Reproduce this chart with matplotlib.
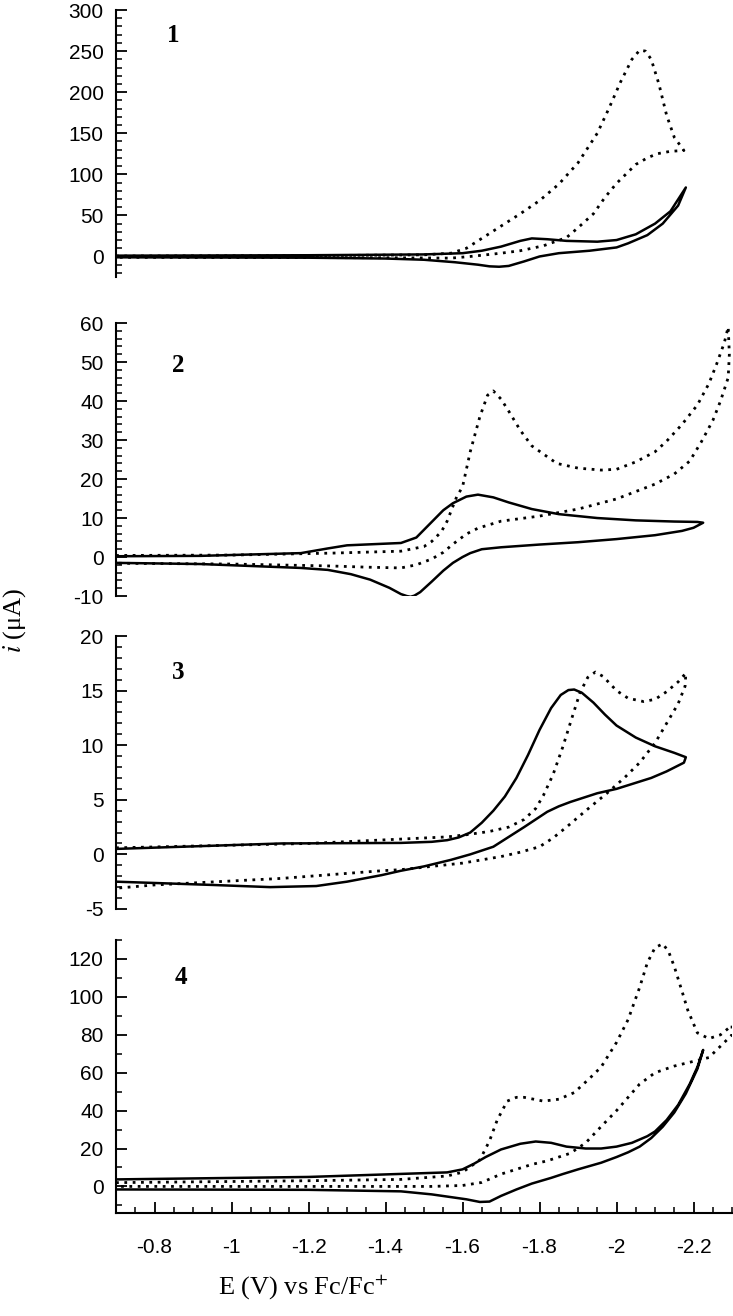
import matplotlib

matplotlib.use("Agg")
from matplotlib import pyplot as plt
from matplotlib.ticker import MultipleLocator

# cyclic voltammograms, potential in V vs Fc/Fc+, current in uA
# each loop = cathodic sweep followed by the return sweep

# complex 1
e1_solid = [-0.7, -1.2, -1.5, -1.6, -1.65, -1.7, -1.75, -1.78, -1.82, -1.87, -1.95, -2.0,
            -2.05, -2.1, -2.14, -2.18,
            -2.16, -2.12, -2.08, -2.03, -2.0, -1.93, -1.85, -1.8, -1.76, -1.72, -1.695,
            -1.67, -1.64, -1.58, -1.5, -1.4, -1.2, -0.7]
i1_solid = [1, 1.5, 2.5, 4, 7, 12, 19, 22, 21, 19, 18, 20,
            27, 40, 55, 84,
            62, 40, 26, 16, 11, 7, 4, 0, -6, -11.5, -12.5,
            -12, -10, -7, -4, -2.5, -1.5, -1]
e1_dot = [-0.7, -1.2, -1.5, -1.57, -1.61, -1.65, -1.7, -1.75, -1.8, -1.85, -1.9, -1.95,
          -1.98, -2.01, -2.04, -2.06, -2.075, -2.09, -2.11, -2.13, -2.15, -2.175,
          -2.14, -2.105, -2.08, -2.05, -2.0, -1.97, -1.94, -1.9, -1.87, -1.81, -1.75,
          -1.7, -1.62, -1.57, -1.4, -0.7]
i1_dot = [0.5, 1, 2, 4, 10, 22, 37, 52, 68, 88, 114, 150,
          180, 212, 240, 251, 250, 240, 210, 172, 145, 129,
          128, 125, 120, 112, 89, 72, 52, 35, 23, 13, 7,
          4, 0, -2, -1.5, -1]

# complex 2
e2_solid = [-0.7, -0.92, -1.18, -1.25, -1.3, -1.44, -1.48, -1.52, -1.55, -1.575, -1.61,
            -1.64, -1.68, -1.72, -1.78, -1.85, -1.95, -2.05, -2.15, -2.21, -2.225,
            -2.2, -2.17, -2.1, -2.0, -1.9, -1.8, -1.7, -1.65, -1.62, -1.6, -1.575,
            -1.55, -1.52, -1.49, -1.475, -1.465, -1.455, -1.44, -1.41, -1.36, -1.31,
            -1.25, -1.18, -0.92, -0.7]
i2_solid = [0.2, 0.3, 1, 2.2, 3, 3.6, 5, 9, 12, 13.8, 15.5,
            16, 15.3, 14, 12.3, 11, 10, 9.4, 9.1, 9, 8.8,
            7.5, 6.7, 5.6, 4.6, 3.8, 3.2, 2.5, 2, 1, 0, -1.5,
            -3.5, -6.3, -9, -9.9, -10.2, -10.0, -9.5, -7.9, -5.8, -4.4,
            -3.3, -2.8, -1.8, -1.5]
e2_dot = [-0.7, -1.0, -1.26, -1.44, -1.5, -1.52, -1.545, -1.56, -1.575, -1.585, -1.6,
          -1.62, -1.645, -1.665, -1.68, -1.7, -1.72, -1.75, -1.78, -1.845, -1.9, -1.96,
          -2.0, -2.05, -2.1, -2.13, -2.17, -2.21, -2.24, -2.26, -2.28, -2.29,
          -2.293, -2.29, -2.27, -2.25, -2.22, -2.19, -2.15, -2.1, -2.0, -1.9, -1.8,
          -1.7, -1.64, -1.61, -1.575, -1.55, -1.52, -1.48, -1.44, -1.35, -1.26, -1.0,
          -0.7]
i2_dot = [0.4, 0.5, 1, 1.5, 2.7, 4, 6.5, 9.2, 13, 15.5, 18,
          27, 36, 41.5, 42.6, 40.5, 37.4, 32.5, 28.5, 24, 22.8, 22.3,
          22.5, 24.4, 27, 29.7, 34, 39, 44.5, 49.5, 55, 59,
          52, 46, 40, 35, 29.5, 24.6, 21.3, 18.7, 14.9, 12.3, 10.5,
          9.2, 7.4, 5.9, 3.3, 1.2, -0.5, -2, -2.8, -2.6, -2.3, -1.8,
          -1.6]

# complex 3
e3_solid = [-0.7, -1.13, -1.44, -1.52, -1.56, -1.59, -1.62, -1.65, -1.68, -1.71, -1.74,
            -1.77, -1.8, -1.83, -1.855, -1.875, -1.89, -1.91, -1.94, -1.97, -2.0,
            -2.05, -2.1, -2.15, -2.18,
            -2.175, -2.13, -2.09, -2.0, -1.95, -1.88, -1.85, -1.82, -1.79, -1.76,
            -1.72, -1.68, -1.62, -1.57, -1.5, -1.44, -1.39, -1.3, -1.22, -1.1, -0.95,
            -0.7]
i3_solid = [0.5, 1.0, 1.05, 1.15, 1.3, 1.55, 2.0, 2.9, 4.0, 5.3, 7.0,
            9.1, 11.4, 13.4, 14.6, 15.05, 15.1, 14.8, 13.9, 12.8, 11.8,
            10.7, 9.9, 9.3, 8.9,
            8.4, 7.6, 7.0, 6.0, 5.6, 4.8, 4.4, 3.9, 3.2, 2.5,
            1.6, 0.7, 0, -0.5, -1.1, -1.5, -1.9, -2.5, -2.9, -3.0, -2.8,
            -2.5]
e3_dot = [-0.7, -1.2, -1.56, -1.61, -1.67, -1.72, -1.76, -1.79, -1.81, -1.835, -1.86,
          -1.885, -1.905, -1.925, -1.945, -1.965, -2.0, -2.03, -2.07, -2.1, -2.13, -2.16,
          -2.18,
          -2.178, -2.16, -2.13, -2.1, -2.06, -2.02, -1.975, -1.92, -1.87, -1.835, -1.8,
          -1.75, -1.7, -1.6, -1.44, -1.39, -1.13, -0.8, -0.7]
i3_dot = [0.6, 1.0, 1.6, 1.8, 2.1, 2.5, 3.2, 4.2, 5.4, 7.3, 9.8,
          12.6, 14.8, 16.2, 16.7, 16.3, 15, 14.3, 14.0, 14.2, 14.9, 15.8,
          16.6,
          15.4, 13.8, 12, 10.2, 8.4, 7, 5.6, 4, 2.5, 1.5, 0.7,
          0.2, -0.2, -0.8, -1.4, -1.5, -2.2, -2.8, -3.1]

# complex 4
e4_solid = [-0.7, -1.2, -1.56, -1.6, -1.63, -1.66, -1.7, -1.75, -1.79, -1.83, -1.87,
            -1.92, -1.96, -2.0, -2.04, -2.08, -2.1, -2.13, -2.16, -2.19, -2.21, -2.225,
            -2.21, -2.18, -2.15, -2.12, -2.09, -2.06, -2.03, -2.0, -1.96, -1.9, -1.86,
            -1.83, -1.78, -1.74, -1.7, -1.67, -1.645, -1.61, -1.52, -1.44, -1.2, -0.7]
i4_solid = [3.7, 5, 7.4, 9, 12, 15.5, 19.5, 22.5, 23.7, 23, 21,
            20, 20, 21, 23, 26.5, 29, 35, 43, 54, 63, 72,
            62, 49, 39, 31.5, 25.5, 21, 18, 15.5, 12.5, 9, 6.5,
            4.5, 1.5, -1.6, -5, -8, -8.2, -6.8, -4.2, -2.6, -1.8, -1.6]
e4_dot = [-0.7, -1.2, -1.44, -1.56, -1.6, -1.645, -1.67, -1.69, -1.716, -1.74, -1.76,
          -1.81, -1.85, -1.89, -1.93, -1.96, -2.0, -2.03, -2.06, -2.08, -2.1, -2.12,
          -2.135, -2.15, -2.17, -2.185, -2.21, -2.24, -2.27, -2.3,
          -2.3, -2.27, -2.24, -2.2, -2.15, -2.1, -2.06, -2.03, -2.0, -1.96, -1.92,
          -1.88, -1.82, -1.78, -1.7, -1.65, -1.6, -1.52, -0.7]
i4_dot = [2, 3, 3.7, 5.5, 7.5, 14, 24, 35, 45, 47, 47,
          45, 46, 49.5, 57, 63, 76, 88, 105, 118, 126, 128,
          124, 116, 103, 93, 81, 78, 80, 85,
          80, 74, 68, 66, 63.5, 60, 54, 47, 40, 31.6, 23,
          17.5, 13.5, 11.6, 6.5, 2.1, 0.5, 0, 0]

panels = [
    ("1", e1_solid, i1_solid, e1_dot, i1_dot, (-25, 300), 50, 10),
    ("2", e2_solid, i2_solid, e2_dot, i2_dot, (-10, 60), 10, 2),
    ("3", e3_solid, i3_solid, e3_dot, i3_dot, (-5, 20), 5, 1),
    ("4", e4_solid, i4_solid, e4_dot, i4_dot, (-14, 130), 20, 10),
]
x_ticks = [-0.8, -1.0, -1.2, -1.4, -1.6, -1.8, -2.0, -2.2]
x_tick_labels = ["-0.8", "-1", "-1.2", "-1.4", "-1.6", "-1.8", "-2", "-2.2"]

plt.rcParams["mathtext.fontset"] = "stix"
plt.rcParams["axes.unicode_minus"] = False
fig = plt.figure(figsize=(7.33, 13.16), dpi=100)

boxes = [
    [0.1583, 0.7895, 0.8404, 0.2029],
    [0.1583, 0.5471, 0.8404, 0.2074],
    [0.1583, 0.3093, 0.8404, 0.2074],
    [0.1583, 0.0783, 0.8404, 0.2074],
]
label_pos = [(0.0925, 0.903), (0.1006, 0.846), (0.1006, 0.868), (0.1055, 0.864)]

for k, (name, es, cs, ed, cd, ylim, major, minor) in enumerate(panels):
    ax = fig.add_axes(boxes[k])
    ax.plot(ed, cd, color="black", lw=2.0, linestyle=(0, (1, 2)),
            dash_joinstyle="round")
    ax.plot(es, cs, color="black", lw=1.8, solid_joinstyle="round",
            solid_capstyle="round")
    ax.set_xlim(-0.7, -2.3)
    ax.set_ylim(*ylim)
    ax.yaxis.set_major_locator(MultipleLocator(major))
    ax.yaxis.set_minor_locator(MultipleLocator(minor))
    for side in ["top", "right"]:
        ax.spines[side].set_visible(False)
    ax.spines["left"].set_linewidth(1.5)
    ax.tick_params(axis="y", which="major", direction="in", length=8, width=1.3,
                   pad=9, labelsize=15)
    ax.tick_params(axis="y", which="minor", direction="in", length=4, width=1.1)
    for lab in ax.get_yticklabels():
        lab.set_family("Liberation Sans")
    ax.text(label_pos[k][0], label_pos[k][1], name, transform=ax.transAxes,
            ha="center", va="center", fontsize=18, fontweight="bold",
            family="Liberation Serif")
    if k < 3:
        ax.spines["bottom"].set_visible(False)
        ax.set_xticks([])
    else:
        ax.spines["bottom"].set_linewidth(1.5)
        ax.set_xticks(x_ticks)
        ax.set_xticklabels(x_tick_labels, family="Liberation Sans")
        ax.xaxis.set_minor_locator(MultipleLocator(0.05))
        ax.tick_params(axis="x", which="major", direction="in", length=8, width=1.3,
                       pad=18, labelsize=15)
        ax.tick_params(axis="x", which="minor", direction="in", length=4, width=1.1)

fig.text(303 / 733, 1 - 1287 / 1316, "E (V) vs Fc/Fc$^{+}$", ha="center", va="center",
         fontsize=19, family="Liberation Serif")
fig.text(15 / 733, 1 - 620 / 1316, "$i$ (\u03bcA)", ha="center", va="center",
         rotation=90, fontsize=19, family="Liberation Serif")

fig.savefig("out.png", dpi=100)
plt.close(fig)
